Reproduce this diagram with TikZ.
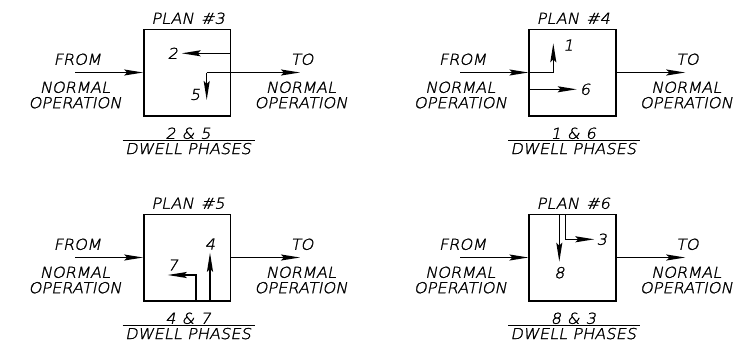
\documentclass[tikz,border=0pt]{standalone}
\usepackage{fontspec}
\newfontfamily\cadfont[FakeSlant=0.2,FakeStretch=1.08,FakeBold=1.6]{DejaVu Sans ExtraLight}
\usetikzlibrary{arrows.meta}
\tikzset{
  lbl/.style={font=\cadfont\fontsize{15}{16}\selectfont, inner sep=0pt},
  flow/.style={line width=1.5pt, -{Stealth[length=19pt,width=6pt,inset=3pt]}},
  planbox/.style={draw, line width=1.6pt, minimum width=86.7pt, minimum height=86.4pt, inner sep=0pt},
  rule/.style={line width=1.2pt}
}
\newcommand{\cadpanel}[3]{%
  \node[planbox] (#1box) at (187.3,72.5) {};
  \node[lbl] (#1plan) at (188,18.3) {PLAN\kern2pt\ #2};
  \node[lbl] (#1from) at (77.3,59.3) {FROM};
  \node[lbl] (#1norml) at (75,87.3) {NORMAL};
  \node[lbl] (#1operl) at (75,102.7) {OPERATION};
  \node[lbl] (#1to) at (302,59.3) {TO};
  \node[lbl] (#1normr) at (301,87.3) {NORMAL};
  \node[lbl] (#1operr) at (301,102.7) {OPERATION};
  \node[lbl] (#1ph) at (188,133.3) {#3};
  \node[lbl] (#1dw) at (188,148.6) {DWELL PHASES};
  \coordinate (#1ra) at (122.7,140.3);
  \coordinate (#1rb) at (255,140.3);
  \draw[rule] (#1ra) -- (#1rb);
  \coordinate (#1in) at (75,72.5);
  \coordinate (#1out) at (300,72.5);
  \draw[flow] (#1in) -- (#1box.west);
}
\begin{document}
\begin{tikzpicture}[x=1pt,y=-1pt]
\useasboundingbox (0,0) rectangle (735,343);
% ---- PLAN #3
\begin{scope}
  \cadpanel{a}{\#3}{2\kern6pt\&\kern6pt5}
  \coordinate (a2s) at (230.7,53.3);
  \coordinate (a2e) at (181.7,53.3);
  \node[lbl] (a2) at (172.7,53.3) {2};
  \draw[flow] (a2s) -- (a2e);
  \coordinate (a5k) at (206.7,72.5);
  \coordinate (a5e) at (206.7,100);
  \node[lbl] (a5) at (195,94.5) {5};
  \draw[flow] (a5k) -- (a5e);
  \draw[flow] (a5k) -- (aout);
\end{scope}
% ---- PLAN #4
\begin{scope}[shift={(385.3,0)}]
  \cadpanel{b}{\#4}{1\kern6pt\&\kern6pt6}
  \coordinate (b1k) at (168,72.5);
  \coordinate (b1e) at (168,43.3);
  \node[lbl] (b1) at (183,45) {1};
  \draw[flow] (bbox.west) -- (b1k) -- (b1e);
  \coordinate (b6s) at (144,89.3);
  \coordinate (b6e) at (191.4,89.3);
  \node[lbl] (b6) at (199.7,89.3) {6};
  \draw[flow] (b6s) -- (b6e);
  \draw[flow] (bbox.east) -- (bout);
\end{scope}
% ---- PLAN #5
\begin{scope}[shift={(0,185)}]
  \cadpanel{c}{\#5}{4\kern6pt\&\kern6pt7}
  \coordinate (c4s) at (210,115.7);
  \coordinate (c4e) at (210,67.7);
  \node[lbl] (c4) at (210,59) {4};
  \draw[flow] (c4s) -- (c4e);
  \coordinate (c7s) at (196,115.7);
  \coordinate (c7k) at (196,90);
  \coordinate (c7e) at (167.7,90);
  \node[lbl] (c7) at (172.7,80) {7};
  \draw[flow] (c7s) -- (c7k) -- (c7e);
  \draw[flow] (cbox.east) -- (cout);
\end{scope}
% ---- PLAN #6
\begin{scope}[shift={(385.3,185)}]
  \cadpanel{d}{\#6}{8\kern6pt\&\kern6pt3}
  \coordinate (d8s) at (174,29.3);
  \coordinate (d8e) at (174,76.7);
  \node[lbl] (d8) at (174,87.7) {8};
  \draw[flow] (d8s) -- (d8e);
  \coordinate (d3s) at (180.4,29.3);
  \coordinate (d3k) at (180.4,54.3);
  \coordinate (d3e) at (209,54.3);
  \node[lbl] (d3) at (216.4,54.3) {3};
  \draw[flow] (d3s) -- (d3k) -- (d3e);
  \draw[flow] (dbox.east) -- (dout);
\end{scope}
\end{tikzpicture}
\end{document}
